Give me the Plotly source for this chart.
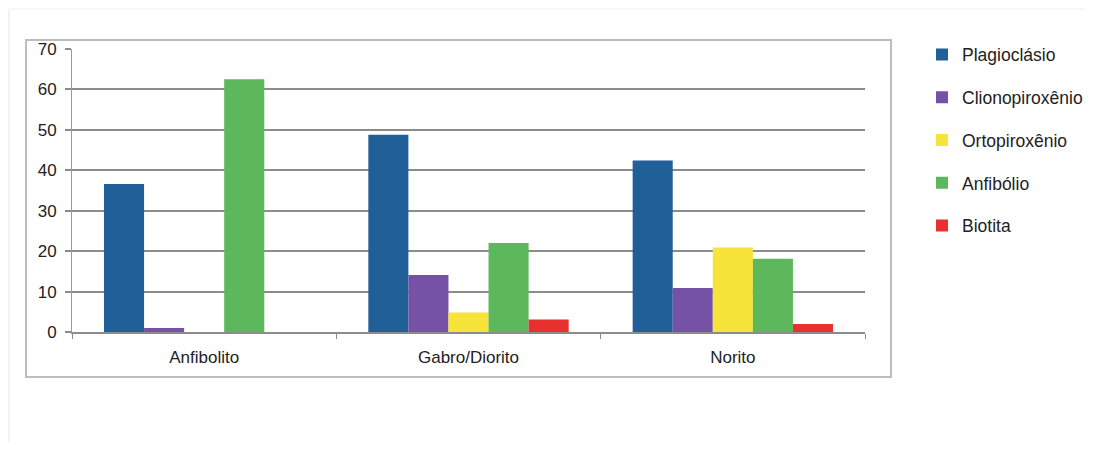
import plotly.graph_objects as go

categories = ["Anfibolito", "Gabro/Diorito", "Norito"]
series_names = ["Plagioclásio", "Clionopiroxênio", "Ortopiroxênio", "Anfibólio", "Biotita"]
plagioclasio = [36.6, 48.8, 42.4]
clinopiroxenio = [1.0, 14.1, 10.9]
ortopiroxenio = [0.0, 4.8, 20.9]
anfibolio = [62.5, 22.0, 18.1]
biotita = [0.0, 3.1, 2.0]
y_ticks = [0, 10, 20, 30, 40, 50, 60, 70]

series_values = [plagioclasio, clinopiroxenio, ortopiroxenio, anfibolio, biotita]
colors = ["#215f99", "#7552a6", "#f6e43a", "#5cb85b", "#e8302f"]

# page offset (browser body margin) and plot-area geometry in page pixels
PL, PR, PT, PB = 72, 865, 49, 332
W, H = 1093, 450
OFF = 8
PW, PH = PR - PL, PB - PT
FIG_W, FIG_H = W - 2 * OFF, H - 2 * OFF


def px(x):
    return (x - PL) / PW


def py(y):
    return (PB - y) / PH


fig = go.Figure()
for i, (name, vals, col) in enumerate(zip(series_names, series_values, colors)):
    fig.add_trace(go.Bar(
        x=categories, y=vals, name=name,
        marker=dict(color=col, line=dict(width=0)),
        legendgroup=f"g{i}",
    ))

fig.update_layout(
    width=FIG_W, height=FIG_H,
    margin=dict(l=PL - OFF, r=FIG_W - (PR - OFF), t=PT - OFF, b=FIG_H - (PB - OFF),
                autoexpand=False),
    paper_bgcolor="white", plot_bgcolor="white",
    barmode="group", bargap=0.242, bargroupgap=0,
    font=dict(family="Liberation Sans, Arial, sans-serif", size=17, color="#222222"),
    showlegend=True,
    legend=dict(
        x=px(922), y=1.044, xanchor="left", yanchor="top",
        font=dict(size=17.5, color="#222222"),
        tracegroupgap=17, itemwidth=30,
        bgcolor="rgba(0,0,0,0)",
    ),
    xaxis=dict(
        showline=True, linecolor="#8c8c8c", linewidth=2,
        ticks="outside", tickson="boundaries", ticklen=5, tickcolor="#8c8c8c",
        tickwidth=1, showgrid=False, tickfont=dict(size=17),
        ticklabelstandoff=9,
    ),
    yaxis=dict(
        range=[0, 70], tickvals=y_ticks,
        showline=True, linecolor="#9a9a9a", linewidth=1,
        ticks="outside", ticklen=6, tickcolor="#8c8c8c", tickwidth=2,
        showgrid=True, gridcolor="#8c8c8c", gridwidth=2,
        zeroline=False, tickfont=dict(size=17),
        ticklabelstandoff=5,
    ),
    shapes=[
        dict(type="rect", xref="paper", yref="paper",
             x0=px(26), x1=px(891), y0=py(377), y1=py(40),
             line=dict(color="#bdbdbd", width=2), layer="below"),
        dict(type="line", xref="paper", yref="paper",
             x0=px(9), x1=px(9), y0=py(442), y1=py(9),
             line=dict(color="#e6e6e6", width=1)),
        dict(type="line", xref="paper", yref="paper",
             x0=px(9), x1=px(1085), y0=py(9), y1=py(9),
             line=dict(color="#eeeeee", width=1)),
    ],
)

fig.write_html("out.html")
